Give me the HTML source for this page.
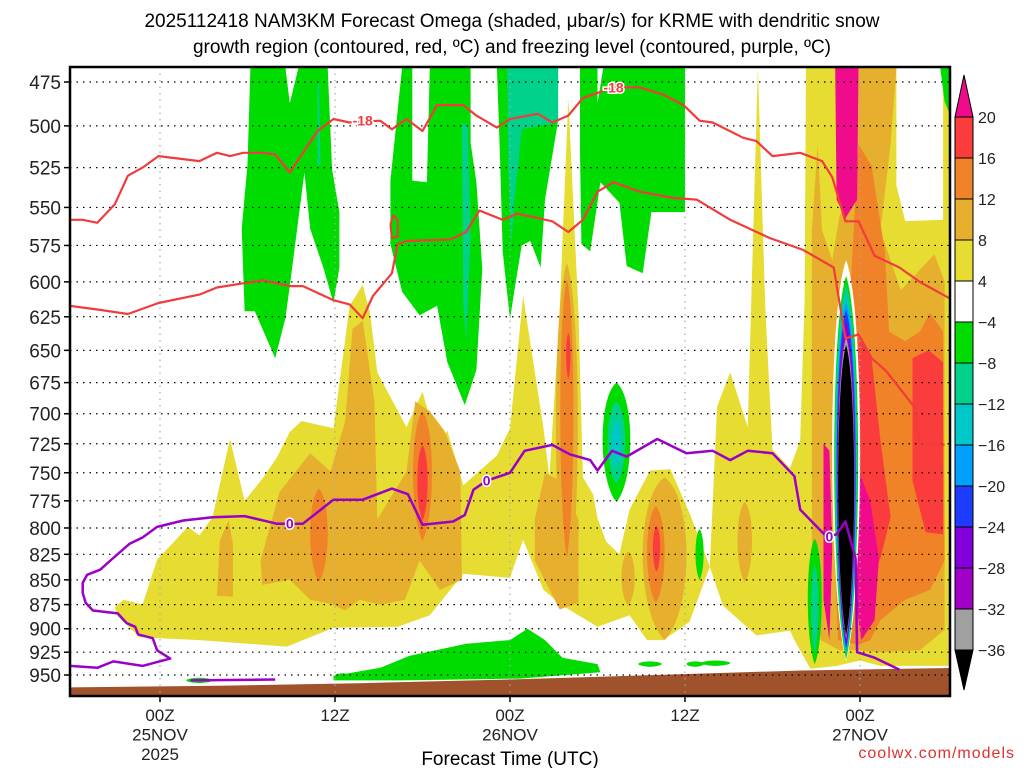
<!DOCTYPE html>
<html><head><meta charset="utf-8">
<style>
html,body{margin:0;padding:0;background:#fff;}
svg{display:block;font-family:"Liberation Sans",sans-serif;}
</style></head>
<body>
<svg id="chart" width="1024" height="768" viewBox="0 0 1024 768" xmlns="http://www.w3.org/2000/svg">
<defs><clipPath id="plotclip"><rect x="70" y="67" width="880" height="629"/></clipPath></defs>
<text x="512" y="27" font-size="19" text-anchor="middle">2025112418 NAM3KM Forecast Omega (shaded, μbar/s) for KRME with dendritic snow</text>
<text x="512" y="53" font-size="19" text-anchor="middle">growth region (contoured, red, ºC) and freezing level (contoured, purple, ºC)</text>
<g id="shade" clip-path="url(#plotclip)"></g>
<g id="grid"></g>
<g id="lines" clip-path="url(#plotclip)"></g>
<g id="axes"></g>
<g id="cbar"></g>
<text x="510" y="765" font-size="19" text-anchor="middle">Forecast Time (UTC)</text>
<text x="1015" y="758" font-size="16" text-anchor="end" fill="#e03030" letter-spacing="1">coolwx.com/models</text>
</svg>
<script>
// ---- data (hours since 18Z 24 Nov, pressure hPa) ----
const pTicks=[475,500,525,550,575,600,625,650,675,700,725,750,775,800,825,850,875,900,925,950];
const tHours=[6,18,30,42,54];
const tLabels1=["00Z","12Z","00Z","12Z","00Z"];
const tLabels2=["25NOV","","26NOV","","27NOV"];
const tLabels3=["2025","","","",""];
const cbLevels=["20","16","12","8","4","\u22124","\u22128","\u221212","\u221216","\u221220","\u221224","\u221228","\u221232","\u221236"];
const cbColors=["#fa3c3c","#f08228","#e6af2d","#e6dc32","#ffffff","#00dc00","#00d28c","#00c8c8","#00a0ff","#1e3cff","#8200dc","#a000c8","#a0a0a0"];
const yellowPolys=[
[[2.9,878],[3.5,870],[4.8,875],[5.8,830],[6.9,814],[7.9,799],[8.7,807],[9.6,790],[10.8,721],[11.8,775],[13.1,754],[14.0,737],[14.9,715],[15.7,706],[17.9,712],[19.0,617],[19.9,602],[20.4,622],[20.9,667],[22.9,711],[24.0,682],[25.0,726],[25.7,714],[26.8,761],[29.1,735],[30.0,712],[30.9,610],[32.3,712],[32.7,754],[33.4,622],[34.0,484],[34.7,622],[35.0,754],[35.7,769],[36.0,791],[36.6,813],[37.5,825],[38.2,783],[39.6,748],[41.0,747],[42.3,786],[43.7,837],[44.2,694],[45.1,667],[46.3,711],[47.0,467],[47.5,617],[48.0,730],[49.2,746],[49.2,902],[46.9,907],[44.6,876],[43.7,837],[42.3,893],[40.5,912],[39.4,912],[38.2,886],[36.0,898],[33.6,876],[32.3,860],[30.9,811],[30.0,848],[26.8,844],[24.5,886],[22.3,898],[17.9,899],[14.7,919],[8.7,912],[4.6,909],[3.1,887]],
[[50.3,467],[60.2,467],[60.2,940],[55.4,940],[54.0,934],[52.4,940],[50.6,943],[49.5,912],[49.2,902],[49.2,746],[49.9,722],[50.2,613]]
];
const whitePolys=[
[[56.5,467],[59.7,467],[59.7,558],[57.1,559],[56.5,536]],
[[24.9,568],[26.0,566],[26.1,591],[25.0,593]]
];
const orange1Polys=[
[[53.9,467],[56.5,467],[56.1,511],[55.4,565],[56.8,606],[59.1,581],[59.8,600],[59.8,901],[58.1,923],[55.4,925],[53.9,923],[52.6,923],[51.3,912],[50.7,831],[50.7,565],[51.1,511],[51.4,565],[52.1,585],[52.6,555],[53.3,545]],
[[12.9,831],[14.2,767],[16.3,733],[17.7,749],[18.7,706],[19.2,634],[19.9,628],[20.7,690],[20.9,792],[22.9,749],[23.5,690],[24.5,698],[25.5,714],[26.6,749],[26.7,850],[25.2,860],[23.8,831],[22.8,870],[21.1,875],[19.7,870],[18.7,881],[17.7,874],[16.3,870],[14.9,850],[13.0,855]],
[[9.9,866],[10.1,812],[10.7,793],[11.0,815],[11.0,867]],
[[31.7,792],[32.4,750],[33.4,757],[34.7,792],[34.7,873],[33.4,880],[32.4,851],[31.7,831]]
];
// lenses: [hour, pTop, pBottom, halfWidthHours]
const orange1Lens=[[33.9,587,873,0.75],[40.6,754,912,1.5],[38.1,822,876,0.45],[46.1,776,852,0.5]];
const orange2Polys=[
[[53.9,511],[54.8,524],[55.7,579],[56.0,636],[57.1,643],[58.1,636],[58.8,622],[59.7,636],[59.8,831],[58.8,860],[57.1,870],[55.4,891],[54.7,912],[53.9,917],[52.5,912],[52.1,775],[52.5,736],[53.3,613]]
];
const orange2Lens=[[24.0,698,812,0.65],[16.9,764,852,0.6],[33.9,598,828,0.45],[40.0,780,873,0.6]];
const redPolys=[
[[53.9,640],[54.8,656],[55.4,722],[56.1,790],[55.4,829],[54.2,870],[53.3,870],[53.7,736]],
[[57.6,656],[58.7,650],[59.7,659],[59.7,806],[58.5,804],[57.6,757]]
];
const redLens=[[24.0,726,793,0.35],[34.0,637,672,0.15],[40.05,798,842,0.25]];
const magentaPolys=[
[[52.3,467],[53.9,467],[53.8,545],[53.0,557],[52.4,545]],
[[53.9,748],[54.7,775],[55.3,829],[55.0,891],[54.1,912],[53.7,870]],
[[51.5,725],[51.9,731],[52.1,821],[51.9,912],[51.5,870]]
];
const greenPolys=[
[[12.2,467],[14.6,467],[14.9,487],[15.5,467],[17.5,467],[17.8,526],[18.3,553],[18.3,590],[17.9,615],[17.2,590],[16.3,564],[15.9,528],[14.9,603],[14.6,626],[13.9,656],[12.5,621],[11.8,621],[11.6,564],[12.0,523]],
[[22.6,467],[23.3,467],[23.3,533],[24.3,534],[24.5,467],[27.3,467],[27.3,510],[27.7,534],[28.1,591],[27.7,665],[26.9,693],[25.7,659],[25.0,617],[23.8,624],[22.6,607],[21.8,574],[21.8,533]],
[[29.1,467],[33.3,467],[33.3,497],[32.4,545],[32.1,590],[31.4,572],[30.8,575],[30.3,606],[30.0,627],[29.5,579],[29.3,515]],
[[34.8,467],[36.0,467],[36.0,487],[36.4,467],[42.0,467],[42.0,553],[39.7,553],[39.1,594],[38.0,589],[37.5,547],[36.2,534],[35.5,579],[34.9,574],[34.8,515]],
[[59.5,467],[60.2,467],[60.2,494],[59.8,486]],
[[17.9,951],[21.1,942],[23.1,929],[27.0,916],[30.0,912],[31.2,900],[32.4,912],[33.6,931],[36.0,938],[36.2,947],[30.7,954],[22.5,956],[17.9,956]]
];
const greenLens=[[37.3,675,776,0.95],[43.0,801,850,0.28],[50.9,810,938,0.48],[39.6,935,941,0.8],[42.7,935,941,0.6],[44.1,934,940,1.0],[8.7,953,959,0.9],[18.5,948,954,0.5]];
const mintPolys=[
[[26.7,499],[27.1,499],[27.3,566],[27.0,644],[26.8,615]],
[[29.8,467],[33.3,467],[33.3,498],[30.8,502],[30.3,545],[30.1,575],[29.9,526]],
[[16.8,475],[16.9,475],[17.0,523],[16.8,524]]
];
const mintLens=[[37.3,690,760,0.6],[50.9,835,925,0.25]];
const cyanLens=[[37.3,705,745,0.3]];
// downdraft core rings
const coreHour=53.05;
const coreColors=["#ffffff","#00dc00","#00d28c","#00c8c8","#00a0ff","#1e3cff","#8200dc","#a000c8","#a0a0a0","#000000"];
const coreTops=[585,596,602,608,614,620,628,634,640,646];
const coreBottoms=[935,933,930,927,924,921,917,913,910,907];
const coreWidths=[0.96,0.82,0.76,0.72,0.68,0.65,0.62,0.59,0.57,0.55];
const terrainHours=[-1,10,20,30,40,50,61];
const terrainP=[964,962,959,955,950,945,942];
const dgzUpper=[[-0.2,558],[0.7,558],[1.7,560],[2.9,548],[3.8,530],[4.8,525],[5.9,518],[8.7,521],[9.9,516],[10.8,518],[11.7,516],[13.1,516],[13.9,517],[14.9,528],[15.8,516],[16.8,503],[17.9,496],[19.0,498],[21.1,497],[21.9,502],[22.9,496],[24.0,503],[25.0,488],[26.8,488],[27.7,494],[29.1,501],[30.0,496],[31.9,493],[32.9,498],[34.0,494],[35.0,484],[37.1,478],[38.9,478],[40.5,482],[41.9,488],[43.0,497],[43.9,498],[46.0,507],[46.9,509],[48.0,518],[49.9,516],[51.4,521],[52.1,531],[53.0,559],[53.9,559],[55.0,582],[56.7,590],[58.1,600],[60.2,612]];
const dgzLower=[[-0.2,617],[1.9,620],[3.8,623],[5.9,615],[8.7,609],[9.9,604],[11.7,601],[13.1,599],[14.9,603],[15.8,603],[17.9,613],[19.0,616],[19.9,626],[20.6,610],[21.9,594],[22.3,574],[22.9,572],[25.9,571],[27.0,566],[27.9,552],[29.5,558],[30.5,554],[32.9,559],[34.0,566],[35.0,558],[36.0,540],[37.1,534],[38.9,540],[41.2,544],[42.8,545],[45.1,558],[47.8,570],[50.1,578],[52.2,590],[52.6,615],[53.0,641],[53.9,638],[54.8,656],[55.8,666],[57.7,694],[58.1,724],[59.8,726]];
const dgzLoop=[[21.8,561],[22.0,555],[22.3,558],[22.3,569],[21.9,570],[21.8,561]];
const dgzLabels=[[19.9,497],[37.1,478]];
const frzLine=[[-0.2,940],[1.7,942],[2.8,935],[4.8,940],[6.7,932],[5.8,923],[5.5,910],[4.5,906],[4.3,898],[3.7,894],[3.1,884],[1.4,881],[0.9,873],[0.7,863],[0.7,853],[1.0,845],[1.9,840],[2.6,831],[3.9,815],[4.8,809],[5.8,799],[7.6,793],[9.6,790],[11.8,789],[14.0,796],[15.8,796],[17.9,774],[19.9,774],[21.9,764],[23.0,769],[24.0,797],[26.1,794],[26.9,788],[27.5,765],[28.4,757],[30.0,750],[31.0,731],[32.9,726],[34.1,734],[35.5,739],[36.0,748],[37.0,731],[38.0,736],[40.1,721],[42.1,733],[43.9,731],[45.1,739],[46.3,731],[48.0,733],[49.5,753],[49.9,783],[51.7,808],[52.4,806],[53.0,794],[53.7,829],[53.8,925],[55.0,931],[56.7,944]];
const frzLine2=[[8.1,956],[13.9,955]];
const frzLabels=[[14.9,796],[28.4,757],[51.9,808]];

// ---- axis functions ----
const NS="http://www.w3.org/2000/svg";
function X(h){return 72.5+h*14.583;}
function Y(p){return 82+Math.log(p/475)/Math.LN2*593;}
function mk(tag,attrs,parent){const e=document.createElementNS(NS,tag);for(const k in attrs)e.setAttribute(k,attrs[k]);parent.appendChild(e);return e;}
const shade=document.getElementById('shade');
function poly(pts,fill,name){
  const e=mk('polygon',{points:pts.map(q=>X(q[0]).toFixed(1)+','+Y(q[1]).toFixed(1)).join(' '),fill:fill},shade);
  
  
}
function lens(l,fill,name){
  const cx=X(l[0]),t=Y(l[1]),b=Y(l[2]),w=l[3]*14.583*1.333,d=b-t;
  const c1=t+0.12*d,c2=b-0.18*d;
  const e=mk('path',{d:`M${cx},${t} C${cx+w},${c1} ${cx+w},${c2} ${cx},${b} C${cx-w},${c2} ${cx-w},${c1} ${cx},${t}Z`,fill:fill},shade);
  
  
}
yellowPolys.forEach(p=>poly(p,"#e6dc32","omega-4-8-region"));
whitePolys.forEach(p=>poly(p,"#ffffff","omega-neutral-region"));
orange1Polys.forEach(p=>poly(p,"#e6af2d","omega-8-12-region"));
orange1Lens.forEach(l=>lens(l,"#e6af2d","omega-8-12-region"));
orange2Polys.forEach(p=>poly(p,"#f08228","omega-12-16-region"));
orange2Lens.forEach(l=>lens(l,"#f08228","omega-12-16-region"));
redPolys.forEach(p=>poly(p,"#fa3c3c","omega-16-20-region"));
redLens.forEach(l=>lens(l,"#fa3c3c","omega-16-20-region"));
magentaPolys.forEach(p=>poly(p,"#f00a8c","omega-above-20-region"));
greenPolys.forEach(p=>poly(p,"#00dc00","omega-neg4-neg8-region"));
greenLens.forEach(l=>lens(l,"#00dc00","omega-neg4-neg8-region"));
mintPolys.forEach(p=>poly(p,"#00d28c","omega-neg8-neg12-region"));
mintLens.forEach(l=>lens(l,"#00d28c","omega-neg8-neg12-region"));
cyanLens.forEach(l=>lens(l,"#00c8c8","omega-neg12-neg16-region"));
coreColors.forEach((c,i)=>lens([coreHour,coreTops[i],coreBottoms[i],coreWidths[i]],c,"downdraft-core-ring"));
// terrain
{
  const pts=terrainHours.map((h,i)=>X(h)+','+Y(terrainP[i]));
  pts.push(X(61)+',700',X(-1)+',700');
  const e=mk('polygon',{points:pts.join(' '),fill:"#a0522d"},shade);
  
  
}
// grid
const grid=document.getElementById('grid');
pTicks.forEach(p=>{
  const e=mk('line',{x1:70,x2:950,y1:Y(p),y2:Y(p),stroke:"#000","stroke-width":1.2,"stroke-dasharray":"1.5 5"},grid);
  
  
});
tHours.forEach(h=>{
  const e=mk('line',{x1:X(h),x2:X(h),y1:67,y2:696,stroke:"#aaa","stroke-width":1.2,"stroke-dasharray":"1.5 5"},grid);
  
  
});
// lines
const lines=document.getElementById('lines');
function pline(pts,color,name,w){
  const e=mk('polyline',{points:pts.map(q=>X(q[0]).toFixed(1)+','+Y(q[1]).toFixed(1)).join(' '),fill:"none",stroke:color,"stroke-width":w,"stroke-linejoin":"round"},lines);
  
  
}
pline(dgzUpper,"#f03c3c","dgz-minus18-contour",2.2);
pline(dgzLower,"#f03c3c","dgz-minus12-contour",2.2);
pline(dgzLoop,"#f03c3c","dgz-small-loop",2);
pline(frzLine,"#9b00c8","freezing-level-contour",2.5);
pline(frzLine2,"#9b00c8","freezing-level-surface-contour",2.5);
dgzLabels.forEach(q=>{
  const t=mk('text',{x:X(q[0]),y:Y(q[1])+5,"font-size":14,"font-weight":"bold",fill:"#f03c3c","text-anchor":"middle",stroke:"#fff","stroke-width":3,"paint-order":"stroke"},lines);
  t.textContent="-18";
  
  
});
frzLabels.forEach(q=>{
  const t=mk('text',{x:X(q[0]),y:Y(q[1])+5,"font-size":14,"font-weight":"bold",fill:"#9b00c8","text-anchor":"middle",stroke:"#fff","stroke-width":3,"paint-order":"stroke"},lines);
  t.textContent="0";
  
  
});
// axes
const axes=document.getElementById('axes');
{
  const f=mk('rect',{x:70,y:67,width:880,height:629,fill:"none",stroke:"#000","stroke-width":2.5},axes);
  
  
}
pTicks.forEach(p=>{
  const tk=mk('line',{x1:64,x2:70,y1:Y(p),y2:Y(p),stroke:"#000","stroke-width":1.5},axes);
  
  
  const t=mk('text',{x:61,y:Y(p)+7,"font-size":19,"text-anchor":"end",fill:"#222"},axes);
  t.textContent=p;
  
  
});
tHours.forEach((h,i)=>{
  const tk=mk('line',{x1:X(h),x2:X(h),y1:696,y2:702,stroke:"#000","stroke-width":1.5},axes);
  
  
  [tLabels1[i],tLabels2[i],tLabels3[i]].forEach((s,j)=>{
    if(!s)return;
    const t=mk('text',{x:X(h),y:721+j*19.5,"font-size":17,"text-anchor":"middle",fill:"#222"},axes);
    t.textContent=s;
    
    
  });
});
// colorbar
const cb=document.getElementById('cbar');
const cbTop=117,cbStep=41;
cbColors.forEach((c,i)=>{
  const r=mk('rect',{x:955,y:cbTop+i*cbStep,width:18,height:cbStep,fill:c,stroke:"#000","stroke-width":1},cb);
  
  
});
{
  const a=mk('polygon',{points:`955,${cbTop} 973,${cbTop} 964,75`,fill:"#f00a8c",stroke:"#000","stroke-width":1},cb);
  
  
  const yb=cbTop+cbColors.length*cbStep;
  const b=mk('polygon',{points:`955,${yb} 973,${yb} 964,${yb+40}`,fill:"#000",stroke:"#000","stroke-width":1},cb);
  
  
}
cbLevels.forEach((s,i)=>{
  const t=mk('text',{x:978,y:cbTop+i*cbStep+6,"font-size":16,fill:"#222"},cb);
  t.textContent=s;
  
  
});
</script>
</body></html>
